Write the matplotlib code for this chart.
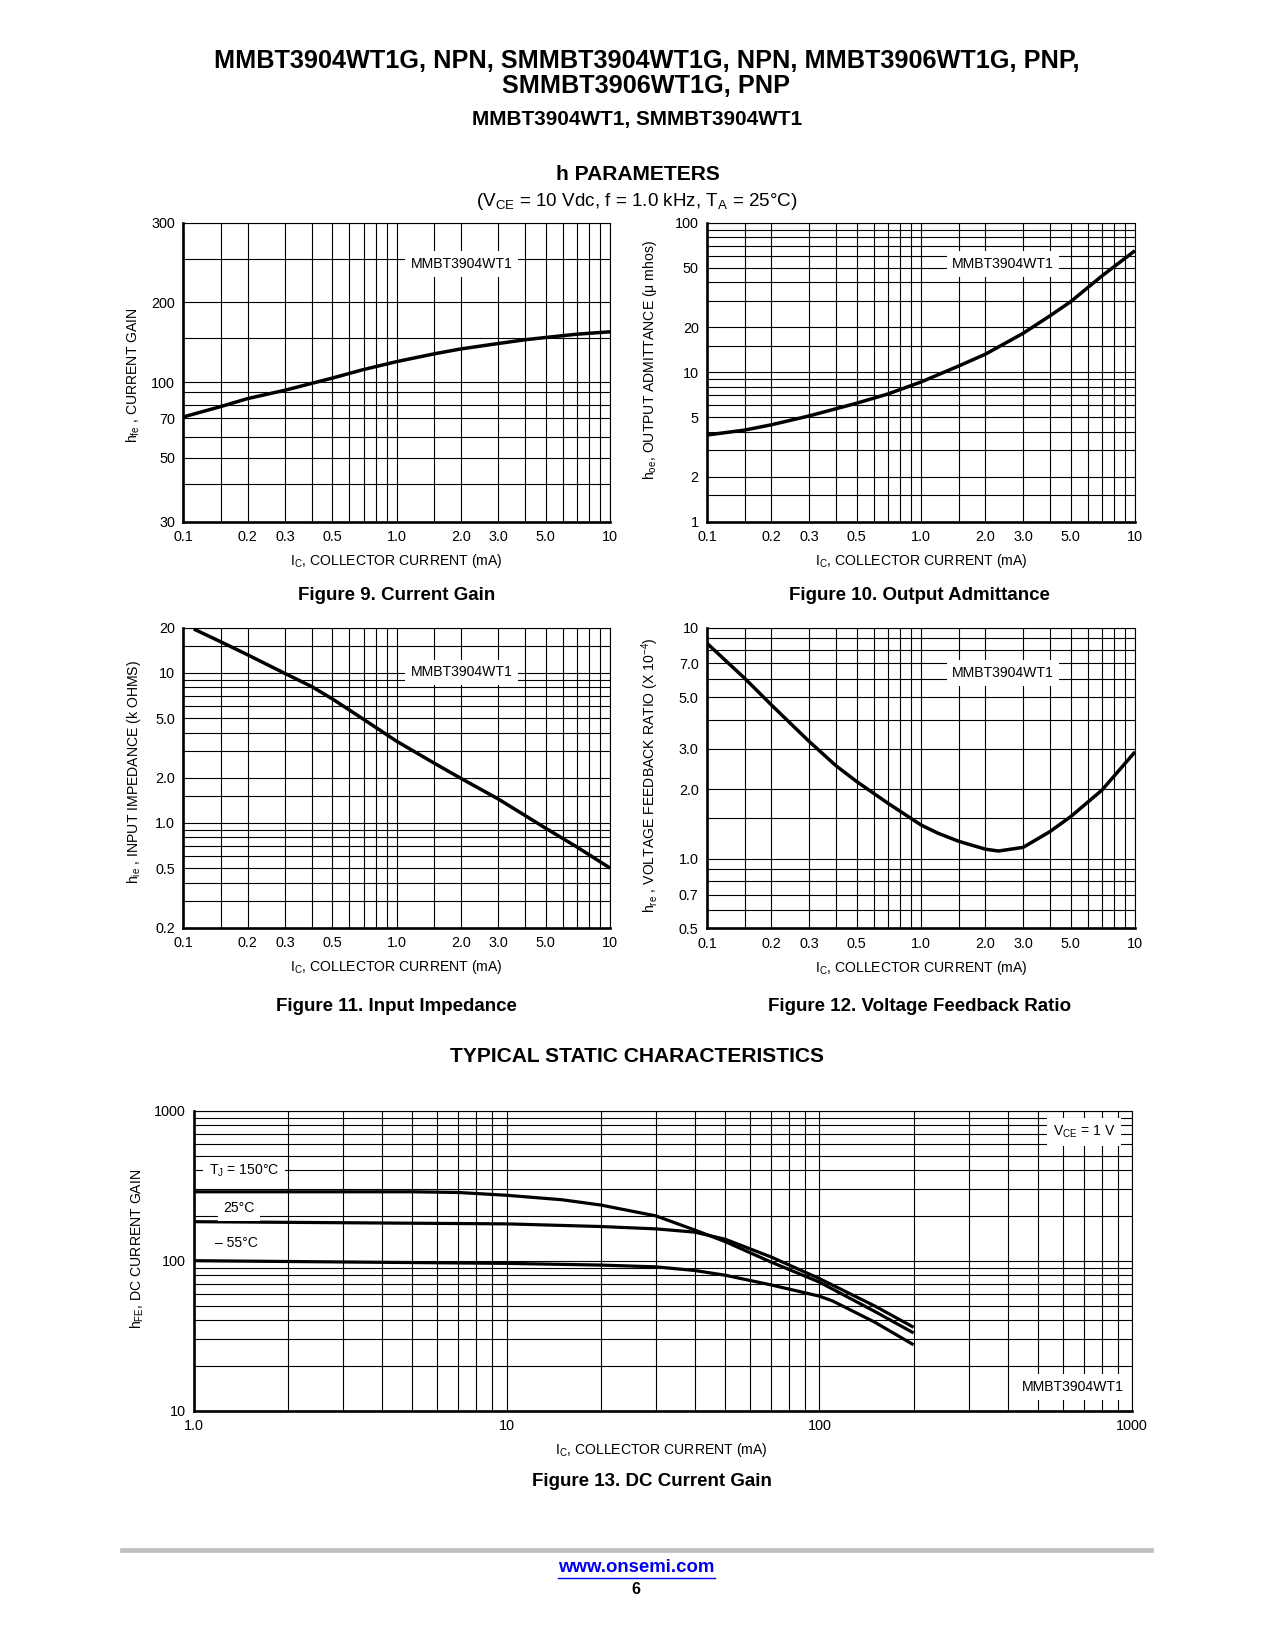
import numpy as np
import matplotlib
matplotlib.use('Agg')
import matplotlib.pyplot as plt
from matplotlib import font_manager as fm
from matplotlib.ticker import FixedLocator, FixedFormatter, NullFormatter
from matplotlib.lines import Line2D

# ---------------- data ----------------
# Figure 9: current gain hfe vs Ic (mA)
ic9 = [0.1, 0.15, 0.2, 0.3, 0.5, 0.7, 1.0, 1.5, 2.0, 3.0, 4.0, 5.0, 7.0, 10.0]
hfe9 = [71, 79, 85, 92, 104, 112.5, 121, 130, 136, 143, 148, 151, 155, 158]

# Figure 10: output admittance hoe (umhos) vs Ic
ic10 = [0.1, 0.15, 0.2, 0.3, 0.5, 0.7, 1.0, 1.5, 2.0, 3.0, 4.0, 5.0, 7.0, 10.0]
hoe10 = [3.8, 4.1, 4.45, 5.1, 6.2, 7.15, 8.6, 11.0, 13.2, 18.2, 23.8, 29.6, 44, 65]

# Figure 11: input impedance hie (k ohms) vs Ic
ic11 = [0.112, 0.15, 0.2, 0.3, 0.4, 0.5, 0.7, 1.0, 1.5, 2.0, 3.0, 5.0, 7.0, 10.0]
hie11 = [19.6, 16.1, 13.2, 9.9, 8.1, 6.7, 4.9, 3.5, 2.5, 1.98, 1.44, 0.92, 0.69, 0.50]

# Figure 12: voltage feedback ratio hre (x1e-4) vs Ic
ic12 = [0.1, 0.15, 0.2, 0.3, 0.4, 0.5, 0.7, 1.0, 1.2, 1.5, 2.0, 2.3, 3.0, 4.0, 5.0, 7.0, 10.0]
hre12 = [8.56, 6.04, 4.63, 3.22, 2.53, 2.16, 1.74, 1.40, 1.29, 1.19, 1.10, 1.08, 1.12, 1.31, 1.52, 1.98, 2.9]

# Figure 13: DC current gain hFE vs Ic (mA)
ic13_150 = [1, 5, 7, 10, 15, 20, 30, 40, 50, 70, 100, 150, 200]
hfe13_150 = [288, 288, 285, 273, 255, 235, 199, 160, 134, 98, 72, 46, 33]
ic13_25 = [1, 10, 20, 30, 40, 50, 70, 100, 150, 200]
hfe13_25 = [182, 176, 169, 163, 155, 139, 106, 76, 50, 36]
ic13_m55 = [1, 10, 20, 30, 40, 50, 70, 100, 110, 150, 200]
hfe13_m55 = [100, 96, 93.5, 91, 86, 80, 69, 58, 54, 39, 27.5]

# tick labels
x_ticks_h = [0.1, 0.2, 0.3, 0.5, 1.0, 2.0, 3.0, 5.0, 10]
x_labels_h = ['0.1', '0.2', '0.3', '0.5', '1.0', '2.0', '3.0', '5.0', '10']
y9_ticks = [30, 50, 70, 100, 200, 300]
y9_labels = ['30', '50', '70', '100', '200', '300']
y10_ticks = [1, 2, 5, 10, 20, 50, 100]
y10_labels = ['1', '2', '5', '10', '20', '50', '100']
y11_ticks = [0.2, 0.5, 1.0, 2.0, 5.0, 10, 20]
y11_labels = ['0.2', '0.5', '1.0', '2.0', '5.0', '10', '20']
y12_ticks = [0.5, 0.7, 1.0, 2.0, 3.0, 5.0, 7.0, 10]
y12_labels = ['0.5', '0.7', '1.0', '2.0', '3.0', '5.0', '7.0', '10']
x13_ticks = [1, 10, 100, 1000]
x13_labels = ['1.0', '10', '100', '1000']
y13_ticks = [10, 100, 1000]
y13_labels = ['10', '100', '1000']

# ---------------- fonts ----------------
names = {f.name for f in fm.fontManager.ttflist}
if 'Liberation Sans Narrow' in names:
    NARROW, K = 'Liberation Sans Narrow', 1.0
else:
    NARROW, K = 'Liberation Sans', 0.84
REG = 'Liberation Sans'
plt.rcParams['font.family'] = [NARROW, 'DejaVu Sans']
plt.rcParams['mathtext.fontset'] = 'custom'
plt.rcParams['mathtext.rm'] = NARROW
plt.rcParams['mathtext.it'] = NARROW + ':italic'
plt.rcParams['mathtext.bf'] = NARROW + ':bold'

W, H = 1275, 1650
fig = plt.figure(figsize=(W / 100, H / 100), dpi=100)
fig.patch.set_facecolor('white')

TS = 12.3 * K      # tick labels
LS = 12 * K        # axis labels / annotations
CS = 16.1 * K      # figure captions


def add_ax(x0, y0, x1, y1):
    return fig.add_axes([x0 / W, 1 - y1 / H, (x1 - x0) / W, (y1 - y0) / H])


def ftext(x, y, s, **kw):
    kw.setdefault('ha', 'center')
    kw.setdefault('va', 'center')
    return fig.text(x / W, 1 - y / H, s, **kw)


def decade_grid(lo, hi, steps=(1, 2, 3, 4, 5, 6, 7, 8, 9)):
    vals = []
    e0 = int(np.floor(np.log10(lo) + 1e-9))
    e1 = int(np.ceil(np.log10(hi) - 1e-9))
    for e in range(e0, e1 + 1):
        for s in steps:
            v = s * 10.0 ** e
            if lo * 0.999 <= v <= hi * 1.001:
                vals.append(v)
    return sorted(set(np.round(vals, 8)))


def style(ax, xgrid, ygrid, xt, xtl, yt, ytl, xpad=6, ypad=6):
    ax.xaxis.set_major_locator(FixedLocator(xt))
    ax.xaxis.set_major_formatter(FixedFormatter(xtl))
    ax.xaxis.set_minor_locator(FixedLocator(xgrid))
    ax.xaxis.set_minor_formatter(NullFormatter())
    ax.yaxis.set_major_locator(FixedLocator(yt))
    ax.yaxis.set_major_formatter(FixedFormatter(ytl))
    ax.yaxis.set_minor_locator(FixedLocator(ygrid))
    ax.yaxis.set_minor_formatter(NullFormatter())
    ax.tick_params(which='both', length=0, labelsize=TS)
    ax.tick_params(axis='x', pad=xpad)
    ax.tick_params(axis='y', pad=ypad)
    ax.grid(which='both', color='black', lw=0.8)
    ax.set_axisbelow(True)
    for s in ['left', 'bottom']:
        ax.spines[s].set_linewidth(1.9)
    for s in ['top', 'right']:
        ax.spines[s].set_linewidth(0.8)


def boxed(ax, x, y, s, size=LS):
    ax.text(x, y, s, transform=ax.transAxes, ha='center', va='center', fontsize=size,
            bbox=dict(facecolor='white', edgecolor='none', pad=4), zorder=5)


STEPS_H = (1, 1.5, 2, 3, 4, 5, 6, 7, 8, 9)
xgrid_h = decade_grid(0.1, 10, STEPS_H)
XLAB = r'$\mathrm{I_C}$, COLLECTOR CURRENT (mA)'
CURVE = dict(color='black', lw=2.5, solid_capstyle='butt', solid_joinstyle='round')

# ---------------- Figure 9 ----------------
ax9 = add_ax(183.3, 222.7, 610, 521.7)
cal_v = [30, 40, 50, 60, 70, 80, 90, 100, 150, 200, 250, 300]
cal_f = [0, .1251, .2141, .2843, .3458, .3893, .4328, .4662, .6134, .7338, .8786, 1.0]
lv = np.log10(cal_v)


def f9(v):
    return np.interp(np.log10(np.maximum(np.asarray(v, float), 1e-12)), lv, cal_f)


def f9inv(p):
    return 10 ** np.interp(p, cal_f, lv)


ax9.set_xscale('log')
ax9.set_yscale('function', functions=(f9, f9inv))
ax9.set_xlim(0.1, 10)
ax9.set_ylim(30, 300)
ax9.plot(ic9, hfe9, **CURVE)
style(ax9, xgrid_h, cal_v, x_ticks_h, x_labels_h, y9_ticks, y9_labels)
boxed(ax9, 0.653, 0.862, 'MMBT3904WT1')
ax9.set_xlabel(XLAB, fontsize=LS)
ax9.xaxis.set_label_coords(0.5, -0.131)
ax9.xaxis.label.set_va('center')
ax9.set_ylabel(r'h$_{\mathrm{fe}}$ , CURRENT GAIN', fontsize=LS)
ax9.yaxis.set_label_coords(-0.1165, 0.49)
ax9.yaxis.label.set_va('center')

# ---------------- Figure 10 ----------------
ax10 = add_ax(707, 222.7, 1135, 521.7)
ax10.set_xscale('log')
ax10.set_yscale('log')
ax10.set_xlim(0.1, 10)
ax10.set_ylim(1, 100)
ax10.plot(ic10, hoe10, **CURVE)
style(ax10, xgrid_h, decade_grid(1, 100, STEPS_H),
      x_ticks_h, x_labels_h, y10_ticks, y10_labels)
boxed(ax10, 0.6916, 0.862, 'MMBT3904WT1')
ax10.set_xlabel(XLAB, fontsize=LS)
ax10.xaxis.set_label_coords(0.5, -0.131)
ax10.xaxis.label.set_va('center')
ax10.set_ylabel('h$_{\\mathrm{oe}}$, OUTPUT ADMITTANCE (\u03bc mhos)', fontsize=LS)
ax10.yaxis.set_label_coords(-0.133, 0.54)
ax10.yaxis.label.set_va('center')

# ---------------- Figure 11 ----------------
ax11 = add_ax(183.3, 627.7, 610, 927.7)
ax11.set_xscale('log')
ax11.set_yscale('log')
ax11.set_xlim(0.1, 10)
ax11.set_ylim(0.2, 20)
ax11.plot(ic11, hie11, **CURVE)
style(ax11, xgrid_h, decade_grid(0.2, 20, STEPS_H),
      x_ticks_h, x_labels_h, y11_ticks, y11_labels)
boxed(ax11, 0.653, 0.851, 'MMBT3904WT1')
ax11.set_xlabel(XLAB, fontsize=LS)
ax11.xaxis.set_label_coords(0.5, -0.131)
ax11.xaxis.label.set_va('center')
ax11.set_ylabel(r'h$_{\mathrm{ie}}$ , INPUT IMPEDANCE (k OHMS)', fontsize=LS)
ax11.yaxis.set_label_coords(-0.1165, 0.52)
ax11.yaxis.label.set_va('center')

# ---------------- Figure 12 ----------------
ax12 = add_ax(707, 627.7, 1135, 928.3)
ax12.set_xscale('log')
ax12.set_yscale('log')
ax12.set_xlim(0.1, 10)
ax12.set_ylim(0.5, 10)
ax12.plot(ic12, hre12, **CURVE)
style(ax12, xgrid_h, decade_grid(0.5, 10, STEPS_H),
      x_ticks_h, x_labels_h, y12_ticks, y12_labels)
boxed(ax12, 0.6916, 0.849, 'MMBT3904WT1')
ax12.set_xlabel(XLAB, fontsize=LS)
ax12.xaxis.set_label_coords(0.5, -0.131)
ax12.xaxis.label.set_va('center')
ax12.set_ylabel(r'h$_{\mathrm{re}}$ , VOLTAGE FEEDBACK RATIO (X 10$^{-4}$)', fontsize=LS)
ax12.yaxis.set_label_coords(-0.133, 0.51)
ax12.yaxis.label.set_va('center')

# ---------------- Figure 13 ----------------
ax13 = add_ax(193.8, 1110.7, 1132.2, 1410.7)
ax13.set_xscale('log')
ax13.set_yscale('log')
ax13.set_xlim(1, 1000)
ax13.set_ylim(10, 1000)
CURVE13 = dict(CURVE, lw=2.3)
ax13.plot(ic13_150, hfe13_150, **CURVE13)
ax13.plot(ic13_25, hfe13_25, **CURVE13)
ax13.plot(ic13_m55, hfe13_m55, **CURVE13)
style(ax13, decade_grid(1, 1000), decade_grid(10, 1000),
      x13_ticks, x13_labels, y13_ticks, y13_labels)
boxed(ax13, 0.9486, 0.929, r'$\mathrm{V_{CE}}$ = 1 V')
boxed(ax13, 0.937, 0.079, 'MMBT3904WT1')
boxed(ax13, 0.0535, 0.799, r'$\mathrm{T_J}$ = 150°C')
boxed(ax13, 0.048, 0.676, '25°C')
boxed(ax13, 0.045, 0.559, '\u2013 55°C')
ax13.set_xlabel(XLAB, fontsize=LS)
ax13.xaxis.set_label_coords(0.498, -0.131)
ax13.xaxis.label.set_va('center')
ax13.set_ylabel(r'h$_{\mathrm{FE}}$, DC CURRENT GAIN', fontsize=LS)
ax13.yaxis.set_label_coords(-0.0605, 0.54)
ax13.yaxis.label.set_va('center')

# ---------------- page texts ----------------
ftext(646.5, 61, 'MMBT3904WT1G, NPN, SMMBT3904WT1G, NPN, MMBT3906WT1G, PNP,',
      fontsize=21.6 * K, fontweight='bold')
ftext(646.5, 86.3, 'SMMBT3906WT1G, PNP', fontsize=21.6 * K, fontweight='bold')
ftext(637, 119, 'MMBT3904WT1, SMMBT3904WT1', fontsize=17.8 * K, fontweight='bold')
ftext(637.5, 174.6, 'h PARAMETERS', fontsize=18 * K, fontweight='bold')
ftext(637, 202, r'(V$_{\mathrm{CE}}$ = 10 Vdc, f = 1.0 kHz, T$_{\mathrm{A}}$ = 25°C)',
      fontsize=13.6, family=[REG, 'DejaVu Sans'])
ftext(396.6, 595.4, 'Figure 9. Current Gain', fontsize=CS, fontweight='bold')
ftext(919.5, 595.4, 'Figure 10. Output Admittance', fontsize=CS, fontweight='bold')
ftext(396.6, 1006.8, 'Figure 11. Input Impedance', fontsize=CS, fontweight='bold')
ftext(919.5, 1006.8, 'Figure 12. Voltage Feedback Ratio', fontsize=CS, fontweight='bold')
ftext(637.5, 1056.2, 'TYPICAL STATIC CHARACTERISTICS', fontsize=18 * K, fontweight='bold')
ftext(652.3, 1481.3, 'Figure 13. DC Current Gain', fontsize=CS, fontweight='bold')

# footer
fig.add_artist(Line2D([122 / W, 1151 / W], [1 - 1550.3 / H, 1 - 1550.3 / H],
                      color='#c0c0c0', lw=3.4, transform=fig.transFigure))
ftext(636.5, 1568, 'www.onsemi.com', fontsize=13.4, fontweight='bold', color='#0000ee',
      family=[REG, 'DejaVu Sans'])
fig.add_artist(Line2D([558 / W, 715 / W], [1 - 1577.5 / H, 1 - 1577.5 / H],
                      color='#0000ee', lw=1.0, transform=fig.transFigure))
ftext(636.3, 1590, '6', fontsize=11.5, fontweight='bold', family=[REG, 'DejaVu Sans'])

fig.savefig('out.png', dpi=100, facecolor='white')
